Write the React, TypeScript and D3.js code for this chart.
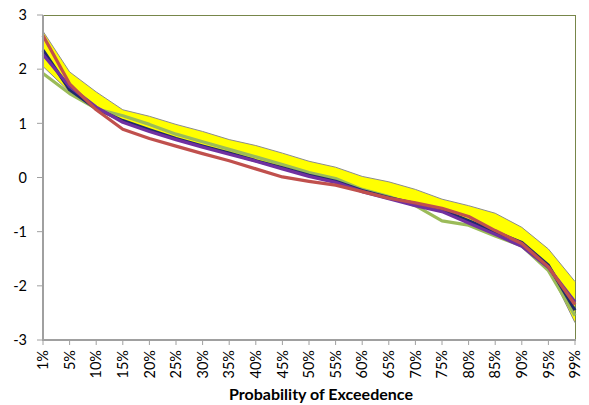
import React from "react";
import * as d3 from "d3";

const categories = ["1%","5%","10%","15%","20%","25%","30%","35%","40%","45%","50%","55%","60%","65%","70%","75%","80%","85%","90%","95%","99%"];
const yTicks = [3, 2, 1, 0, -1, -2, -3];

const bandUpper = [2.70, 1.95, 1.58, 1.25, 1.13, 0.98, 0.85, 0.70, 0.59, 0.45, 0.30, 0.19, 0.02, -0.08, -0.22, -0.40, -0.52, -0.66, -0.92, -1.32, -1.92];
const bandLower = [2.05, 1.58, 1.25, 1.05, 0.88, 0.70, 0.57, 0.44, 0.30, 0.17, 0.03, -0.06, -0.22, -0.38, -0.50, -0.62, -0.80, -1.03, -1.22, -1.68, -2.68];

const green = [1.92, 1.55, 1.27, 1.14, 0.98, 0.80, 0.66, 0.52, 0.38, 0.24, 0.09, -0.02, -0.22, -0.35, -0.52, -0.80, -0.88, -1.08, -1.26, -1.72, -2.55];
const navy = [2.35, 1.62, 1.27, 1.05, 0.88, 0.72, 0.58, 0.45, 0.31, 0.18, 0.04, -0.07, -0.24, -0.37, -0.48, -0.60, -0.80, -1.00, -1.20, -1.62, -2.45];
const purple = [2.27, 1.68, 1.30, 1.02, 0.85, 0.70, 0.56, 0.43, 0.30, 0.16, 0.02, -0.09, -0.26, -0.39, -0.52, -0.63, -0.84, -1.05, -1.27, -1.66, -2.30];
const red = [2.62, 1.73, 1.25, 0.89, 0.72, 0.58, 0.44, 0.31, 0.16, 0.01, -0.07, -0.14, -0.26, -0.38, -0.47, -0.57, -0.72, -0.98, -1.22, -1.65, -2.35];

const seriesList = [
  { name: "green", values: green, color: "#9bbb59" },
  { name: "navy", values: navy, color: "#1f2a6b" },
  { name: "purple", values: purple, color: "#7030a0" },
  { name: "red", values: red, color: "#c0504d" },
];

const W = 589, H = 405;
const left = 43, right = 575, top = 15, bottom = 340;

export default function App() {
  const x = d3.scalePoint<string>().domain(categories).range([left, right]);
  const y = d3.scaleLinear().domain([-3, 3]).range([bottom, top]);
  const xi = (_: number, i: number) => x(categories[i]) as number;

  const area = d3.area<number>()
    .x((d, i) => xi(d, i))
    .y0((d, i) => y(bandLower[i]))
    .y1((d) => y(d));
  const line = d3.line<number>().x((d, i) => xi(d, i)).y((d) => y(d));

  const font = "Lato, 'Open Sans', sans-serif";

  return (
    <svg width={W} height={H} style={{ position: "absolute", left: 0, top: 0, background: "#fff" }} fontFamily={font}>
      <rect x={0} y={0} width={W} height={H} fill="#fff" />
      <line x1={left} x2={right + 0.5} y1={top + 0.5} y2={top + 0.5} stroke="#77864a" strokeWidth={1} />
      <line x1={right + 0.5} x2={right + 0.5} y1={top} y2={bottom} stroke="#77864a" strokeWidth={1} />

      <path d={area(bandUpper) || ""} fill="#ffff00" />
      <path d={line(bandUpper) || ""} fill="none" stroke="#8c8c8c" strokeWidth={1} />
      <path d={line(bandLower) || ""} fill="none" stroke="#8c8c8c" strokeWidth={1} />

      {seriesList.map((s) => (
        <path key={s.name} d={line(s.values) || ""} fill="none" stroke={s.color} strokeWidth={3.25} strokeLinejoin="round" />
      ))}

      <line x1={left} x2={left} y1={top} y2={bottom + 1} stroke="#a0a0a0" strokeWidth={2} />
      <line x1={left - 1} x2={right + 1} y1={bottom} y2={bottom} stroke="#a0a0a0" strokeWidth={2} />
      {yTicks.map((t) => (
        <g key={t}>
          <line x1={left - 6} x2={left} y1={y(t)} y2={y(t)} stroke="#a0a0a0" strokeWidth={1} />
          <text x={27} y={y(t)} dy="0.36em" textAnchor="end" fontSize={14.5} fill="#000">{t}</text>
        </g>
      ))}
      {categories.map((c) => (
        <g key={c}>
          <line x1={x(c)} x2={x(c)} y1={bottom} y2={bottom + 5} stroke="#a0a0a0" strokeWidth={1} />
          <text transform={`translate(${x(c)},${350}) rotate(-90)`} dy="0.36em" textAnchor="end" fontSize={14.5} fill="#000">{c}</text>
        </g>
      ))}
      <text x={(left + right) / 2 + 12} y={400} textAnchor="middle" fontSize={16} fontWeight="bold" fill="#000">Probability of Exceedence</text>
    </svg>
  );
}
